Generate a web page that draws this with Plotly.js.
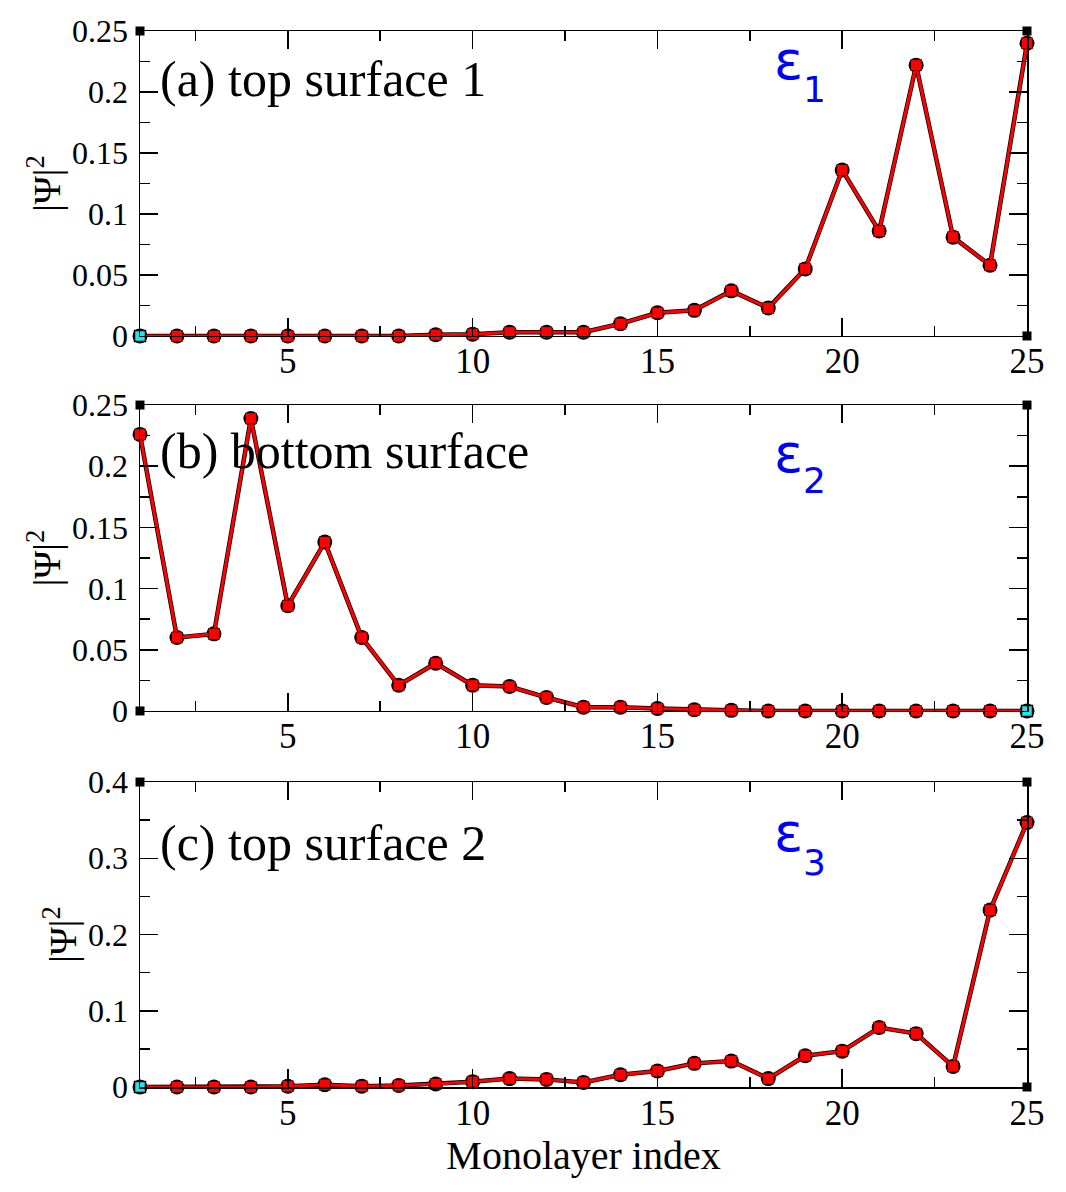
<!DOCTYPE html>
<html>
<head>
<meta charset="utf-8">
<script src="https://cdn.plot.ly/plotly-3.0.1.min.js"></script>
<style>
  html, body { margin: 0; padding: 0; background: #ffffff; }
  #chart { width: 1066px; height: 1192px; }
</style>
</head>
<body>
<div id="chart"></div>
<script>
// monolayer index, shared by the three panels
const layers = [1, 2, 3, 4, 5, 6, 7, 8, 9, 10, 11, 12, 13, 14, 15, 16, 17, 18, 19, 20, 21, 22, 23, 24, 25];

// |Psi|^2 per monolayer
const psiTop1 = [0, 0, 0, 0, 0, 0, 0, 0, 0.001, 0.0015, 0.003, 0.003, 0.003, 0.010, 0.019,
                 0.021, 0.037, 0.023, 0.055, 0.136, 0.086, 0.222, 0.081, 0.058, 0.240];
const psiBottom = [0.226, 0.060, 0.063, 0.239, 0.086, 0.138, 0.060, 0.021, 0.039, 0.021, 0.020, 0.011, 0.003,
                   0.003, 0.002, 0.001, 0.0005, 0, 0, 0, 0, 0, 0, 0, 0];
const psiTop2 = [0, 0, 0, 0, 0.001, 0.003, 0.001, 0.002, 0.004, 0.007, 0.011, 0.010, 0.006, 0.016, 0.021,
                 0.031, 0.034, 0.011, 0.041, 0.047, 0.078, 0.070, 0.027, 0.232, 0.347];

// the little square markers sitting in the corners of each frame
const cornerBlackX = [[1, 25, 25], [1, 1, 25], [1, 25, 25]];
const cornerBlackY = [[0.25, 0.25, 0], [0.25, 0, 0.25], [0.4, 0.4, 0]];
const cornerCyanX = [[1], [25], [1]];
const cornerCyanY = [[0], [0], [0]];

const panelLabels = ["(a) top surface 1", "(b) bottom surface", "(c) top surface 2"];
const stateSubs = ["1", "2", "3"];
const yRanges = [[0, 0.25], [0, 0.25], [0, 0.4]];
const yDticks = [0.05, 0.05, 0.1];

const SERIF = "Liberation Serif, Times New Roman, serif";
const SANS = "DejaVu Sans, sans-serif";
const series = [psiTop1, psiBottom, psiTop2];
const domains = [[0.7112, 1], [0.3561, 0.6458], [0, 0.2888]];

// label positions inside each frame (fractions of the frame)
const labelY = [0.843, 0.85, 0.80];
const epsY = [0.903, 0.842, 0.834];
const subY = [0.807, 0.753, 0.736];

let traces = [];
let layout = {
  width: 1066, height: 1192,
  margin: {l: 140, r: 39, t: 31, b: 105},
  paper_bgcolor: "#ffffff", plot_bgcolor: "#ffffff",
  showlegend: false,
  font: {family: SERIF, color: "#000000"},
  annotations: []
};

for (let i = 0; i < 3; i++) {
  let n = i === 0 ? "" : String(i + 1);
  let xa = "x" + n, ya = "y" + n;

  // black circles under the red squares
  traces.push({
    x: layers, y: series[i], xaxis: xa, yaxis: ya,
    type: "scatter", mode: "lines+markers", cliponaxis: false,
    line: {color: "#000000", width: 4.5},
    marker: {symbol: "circle", size: 15, color: "#000000"}
  });
  traces.push({
    x: layers, y: series[i], xaxis: xa, yaxis: ya,
    type: "scatter", mode: "lines+markers", cliponaxis: false,
    line: {color: "#ff0000", width: 3},
    marker: {symbol: "square", size: 11, color: "#ff0000", line: {color: "#000000", width: 0.5}}
  });
  traces.push({
    x: cornerBlackX[i], y: cornerBlackY[i], xaxis: xa, yaxis: ya,
    type: "scatter", mode: "markers", cliponaxis: false,
    marker: {symbol: "square", size: 9, color: "#000000"}
  });
  traces.push({
    x: cornerCyanX[i], y: cornerCyanY[i], xaxis: xa, yaxis: ya,
    type: "scatter", mode: "markers", cliponaxis: false,
    marker: {symbol: "square", size: 11, color: "#22e4f0", line: {color: "#000000", width: 1.5}}
  });

  layout["xaxis" + n] = {
    domain: [0, 1], anchor: ya, range: [1, 25],
    tick0: 0, dtick: 5, ticks: "inside", ticklen: 18, tickwidth: 1.5, tickcolor: "#000000",
    minor: {dtick: 2.5, ticks: "inside", ticklen: 10, tickwidth: 1.5, tickcolor: "#000000"},
    showline: true, linewidth: 1.5, linecolor: "#000000", mirror: "allticks",
    showgrid: false, zeroline: false, ticklabelstandoff: -6,
    tickfont: {family: SERIF, size: 35, color: "#000000"}
  };
  if (i === 2) {
    layout["xaxis" + n].title = {text: "Monolayer index", font: {family: SERIF, size: 40}, standoff: 4};
  }
  layout["yaxis" + n] = {
    domain: domains[i], anchor: xa, range: yRanges[i],
    tick0: 0, dtick: yDticks[i], ticks: "inside", ticklen: 18, tickwidth: 1.5, tickcolor: "#000000",
    minor: {dtick: yDticks[i] / 2, ticks: "inside", ticklen: 10, tickwidth: 1.5, tickcolor: "#000000"},
    showline: true, linewidth: 1.5, linecolor: "#000000", mirror: "allticks",
    showgrid: false, zeroline: false, ticklabelstandoff: 4,
    tickfont: {family: SERIF, size: 32, color: "#000000"},
    title: {text: "|Ψ|<sup>2</sup>", font: {family: SERIF, size: 38}, standoff: 0}
  };

  layout.annotations.push({
    xref: xa + " domain", yref: ya + " domain",
    x: 0.02, y: labelY[i], xanchor: "left", yanchor: "middle",
    text: panelLabels[i], showarrow: false,
    font: {family: SERIF, size: 50, color: "#000000"}
  });
  // epsilon and its subscript as two tight boxes so the drop can be matched
  layout.annotations.push({
    xref: xa + " domain", yref: ya + " domain",
    x: 0.7137, y: epsY[i], xanchor: "left", yanchor: "middle",
    width: 29, align: "left", borderpad: 0,
    text: "ε", showarrow: false,
    font: {family: SANS, size: 54, color: "#0000ff"}
  });
  layout.annotations.push({
    xref: xa + " domain", yref: ya + " domain",
    x: 0.7463, y: subY[i], xanchor: "left", yanchor: "middle",
    width: 22, align: "left", borderpad: 0,
    text: stateSubs[i], showarrow: false,
    font: {family: SANS, size: 36, color: "#0000ff"}
  });
}

Plotly.newPlot("chart", traces, layout, {displayModeBar: false, staticPlot: true});
</script>
</body>
</html>
